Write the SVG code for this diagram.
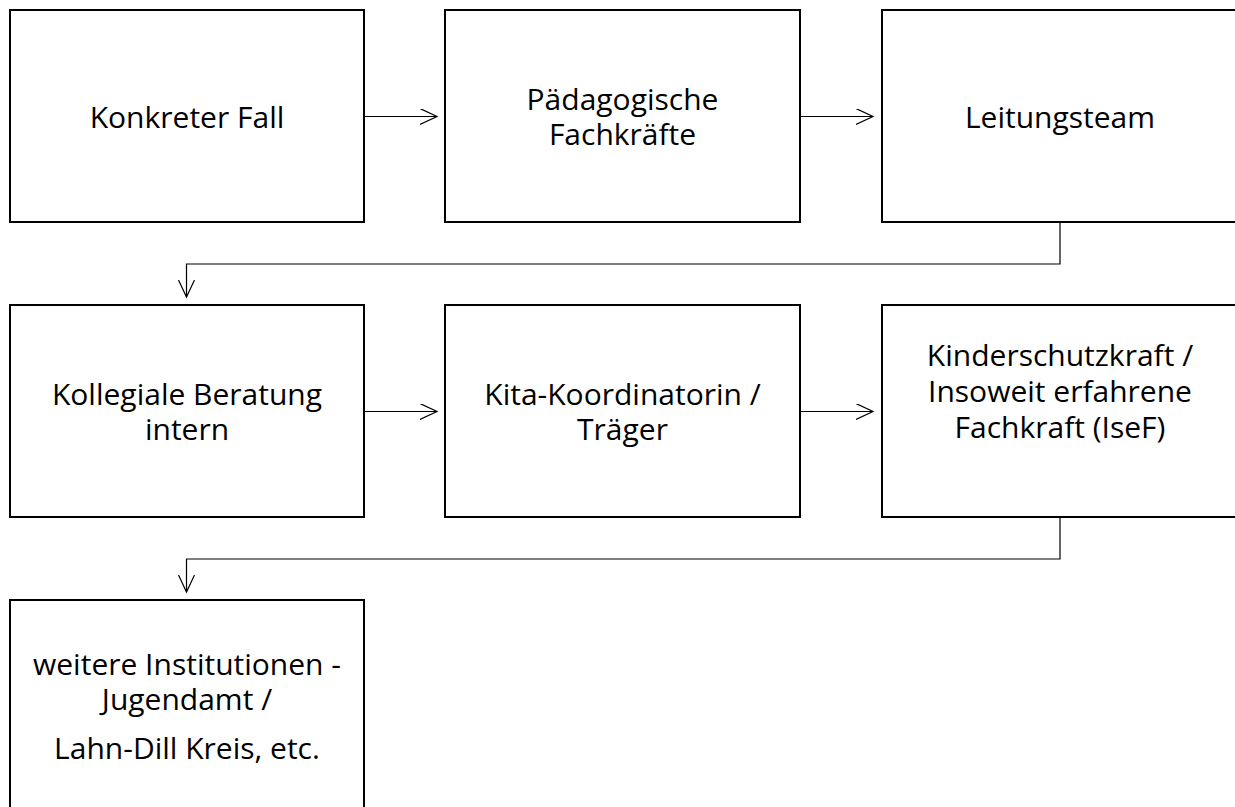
<svg xmlns="http://www.w3.org/2000/svg" width="1235" height="807" viewBox="0 0 1235 807">
<defs>
<marker id="arr" markerWidth="20" markerHeight="20" refX="17" refY="8" orient="auto" markerUnits="userSpaceOnUse">
<path d="M0,0 L17,8 L0,16" fill="none" stroke="#000" stroke-width="1.2"/>
</marker>
<style>
.box{fill:#fff;stroke:#000;stroke-width:2}
.t{font-family:"Open Sans","Liberation Sans",sans-serif;font-size:30px;fill:#000;text-anchor:middle}
.c{fill:none;stroke:#000;stroke-width:1.2;marker-end:url(#arr)}
</style>
</defs>
<rect width="1235" height="807" fill="#fff"/>
<g id="connectors">
<path class="c" d="M364,116.5 H437"/>
<path class="c" d="M800,116.5 H873"/>
<path class="c" d="M1060,222 V264 H186.5 V297"/>
<path class="c" d="M364,411.5 H437"/>
<path class="c" d="M800,411.5 H873"/>
<path class="c" d="M1060,517 V559 H186.5 V592"/>
</g>
<g id="n1"><rect class="box" x="10" y="10" width="354" height="212"/><text class="t" x="187" y="127.5">Konkreter Fall</text></g>
<g id="n2"><rect class="box" x="445" y="10" width="355" height="212"/><text class="t" x="622.5" y="110">Pädagogische</text><text class="t" x="622.5" y="145">Fachkräfte</text></g>
<g id="n3"><rect class="box" x="882" y="10" width="360" height="212"/><text class="t" x="1060" y="127.5">Leitungsteam</text></g>
<g id="n4"><rect class="box" x="10" y="305" width="354" height="212"/><text class="t" x="187" y="405">Kollegiale Beratung</text><text class="t" x="187" y="440">intern</text></g>
<g id="n5"><rect class="box" x="445" y="305" width="355" height="212"/><text class="t" x="622.5" y="405">Kita-Koordinatorin /</text><text class="t" x="622.5" y="440">Träger</text></g>
<g id="n6"><rect class="box" x="882" y="305" width="360" height="212"/><text class="t" x="1060" y="366">Kinderschutzkraft /</text><text class="t" x="1060" y="402">Insoweit erfahrene</text><text class="t" x="1060" y="438">Fachkraft (IseF)</text></g>
<g id="n7"><rect class="box" x="10" y="600" width="354" height="220"/><text class="t" x="187" y="675">weitere Institutionen -</text><text class="t" x="187" y="710">Jugendamt /</text><text class="t" x="187" y="759">Lahn-Dill Kreis, etc.</text></g>
</svg>
